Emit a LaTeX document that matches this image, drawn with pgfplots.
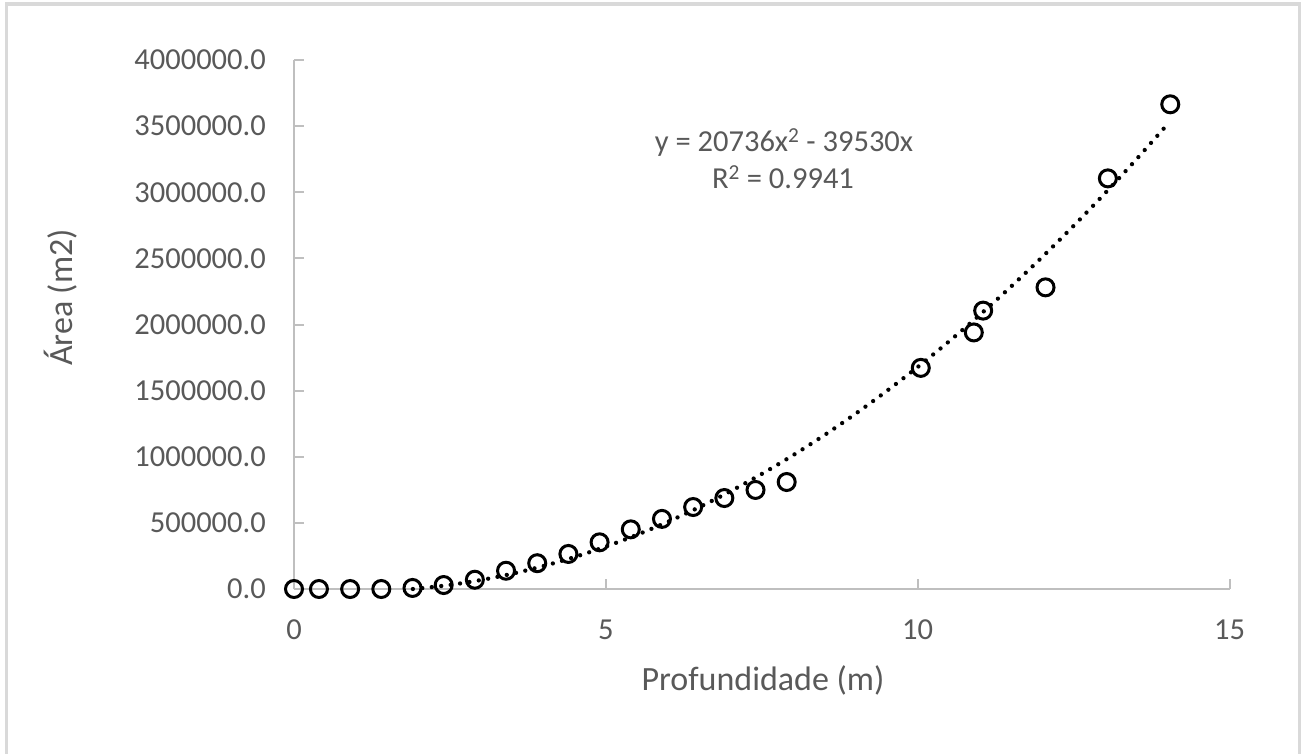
\documentclass[border=0pt]{standalone}
\usepackage{fontspec}
\setmainfont{Carlito}
\usepackage{pgfplots}
\pgfplotsset{compat=1.18}
\definecolor{tickgray}{HTML}{595959}
\definecolor{axgray}{HTML}{BFBFBF}
\definecolor{framegray}{HTML}{D9D9D9}
\begin{document}
\begin{tikzpicture}
\path[use as bounding box] (-294pt,-164pt) rectangle (1011pt,589pt);
\draw[framegray, line width=3.5pt] (-287.5pt,-200pt) -- (-287.5pt,585pt) -- (1005.5pt,585pt) -- (1005.5pt,-200pt);
\begin{axis}[
  at={(0pt,0pt)}, anchor=south west,
  scale only axis, width=935.5pt, height=529pt,
  xmin=0, xmax=15, ymin=0, ymax=4000000,
  axis x line=bottom, axis y line=left,
  axis line style={-, axgray, line width=2pt},
  xtick={0,5,10,15},
  ytick={0,500000,1000000,1500000,2000000,2500000,3000000,3500000,4000000},
  tick align=inside, major tick length=10pt,
  tick style={axgray, line width=2pt},
  scaled y ticks=false,
  clip=false,
  ticklabel style={font=\fontsize{30.5}{36}\selectfont, text=tickgray},
  yticklabel style={/pgf/number format/fixed, /pgf/number format/fixed zerofill,
    /pgf/number format/precision=1, /pgf/number format/1000 sep={},
    /pgf/number format/assume math mode=true,
    anchor=east, inner sep=0pt, xshift=-28pt},
  xticklabel style={/pgf/number format/assume math mode=true,
    anchor=north, inner sep=0pt, yshift=-31pt},
]
\addplot[only marks, mark=o, mark size=8.5pt, mark options={line width=3pt, black}] coordinates {
(0,0) (0.4,0) (0.9,0) (1.4,0) (1.9,8000) (2.4,30000) (2.9,70000) (3.4,138000)
(3.9,195000) (4.4,265000) (4.9,353000) (5.4,451000) (5.9,530000) (6.4,620000)
(6.9,688000) (7.4,749000) (7.9,809000) (10.05,1672000) (10.9,1940000)
(11.05,2105000) (12.05,2281000) (13.05,3105000) (14.05,3665000)
};
\addplot[black, line width=4.3pt, dash pattern=on 0pt off 9.5pt, line cap=round, smooth] coordinates {
(1.9063,0) (2,3884) (2.5,30775) (3,68034) (3.5,115661) (4,173656) (4.5,242019)
(5,320750) (5.5,409849) (6,509316) (6.5,619151) (7,739354) (7.5,869925)
(8,1010864) (8.5,1162171) (9,1323846) (9.5,1495889) (10,1678300) (10.5,1871079)
(11,2074226) (11.5,2287741) (12,2511624) (12.5,2745875) (13,2990494)
(13.5,3245481) (14,3510836)
};
\end{axis}
\node[anchor=base, text=tickgray, font=\fontsize{34}{40}\selectfont] at (469pt,-101pt) {Profundidade (m)};
\node[anchor=base, rotate=90, text=tickgray, font=\fontsize{34}{40}\selectfont] at (-221pt,291.5pt) {Área (m2)};
\node[anchor=base, text=tickgray, font=\fontsize{30.5}{36}\selectfont] at (490pt,437pt) {y = 20736x\textsuperscript{2} - 39530x};
\node[anchor=base, text=tickgray, font=\fontsize{30.5}{36}\selectfont] at (489pt,400pt) {R\textsuperscript{2} = 0.9941};
\end{tikzpicture}
\end{document}
